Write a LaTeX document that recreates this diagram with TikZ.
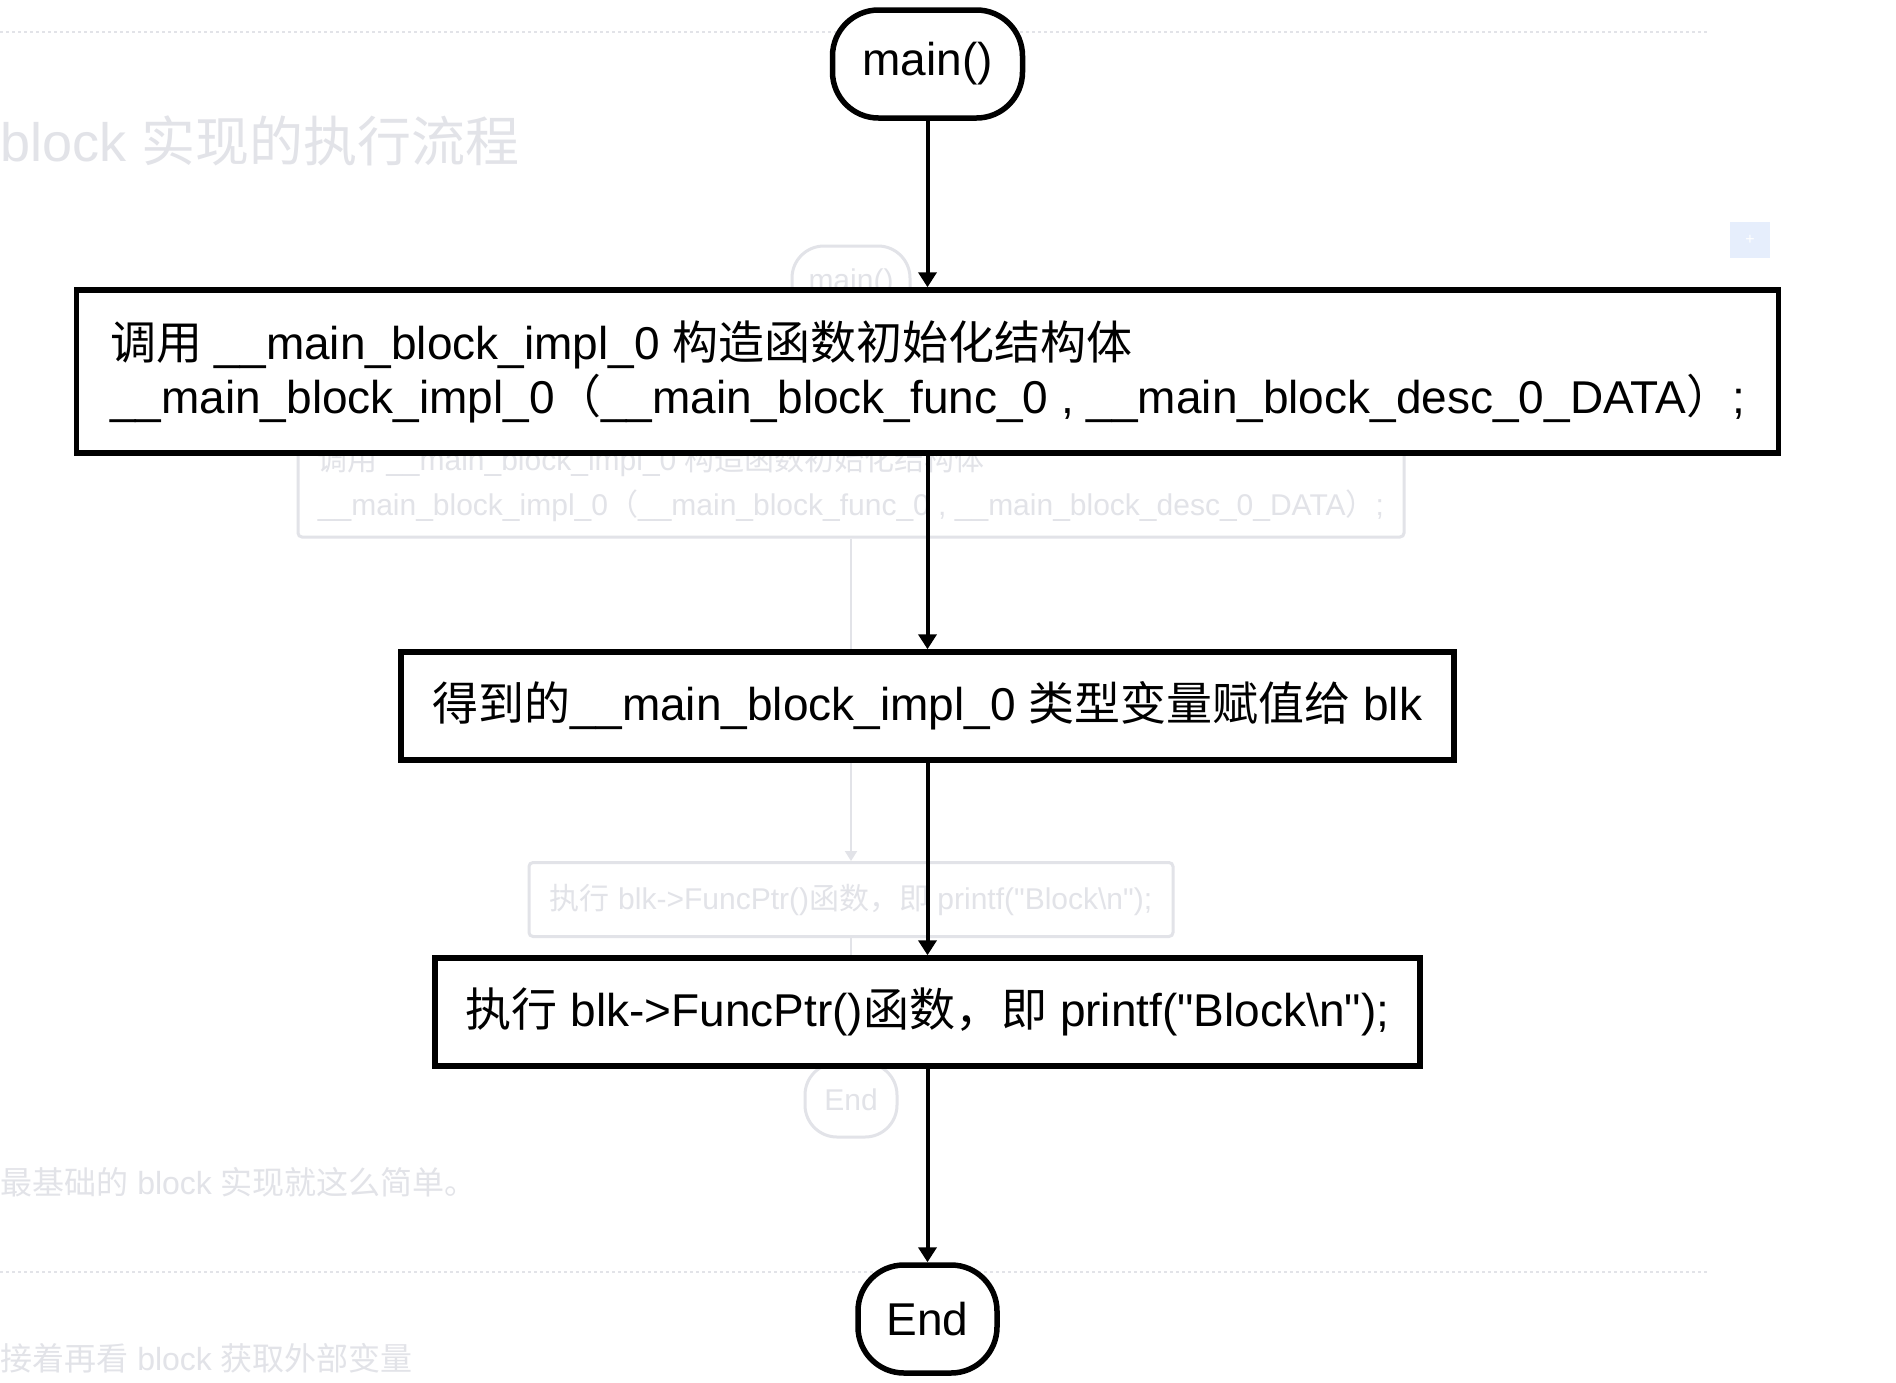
\documentclass[tikz,border=0pt]{standalone}
\usepackage{fontspec}
\setmainfont{Liberation Sans}
\newfontfamily\cjk{Noto Sans CJK SC}
\newcommand\zh[1]{{\cjk #1}}
\usetikzlibrary{arrows.meta}
\definecolor{ghost}{RGB}{226,227,232}
\definecolor{ghostblue}{RGB}{230,238,252}
\begin{document}
\begin{tikzpicture}[x=0.5pt,y=-0.5pt,
  mainfont/.style={font=\fontsize{23}{27}\selectfont},
  box/.style={draw=black, line width=2.75pt, fill=white, mainfont, inner sep=0pt, align=left},
  term/.style={box, rounded corners=23pt},
  flow/.style={draw=black, line width=2pt, -{Triangle[length=7.5pt,width=9pt]}},
  gbox/.style={draw=ghost, line width=1.5pt, text=ghost, font=\fontsize{15}{22.5}\selectfont, inner sep=0pt, align=left, rounded corners=2pt},
  gterm/.style={gbox, rounded corners=16pt},
  gflow/.style={draw=ghost, line width=1pt, -{Triangle[length=5pt,width=6pt]}},
  gtext/.style={text=ghost, inner sep=0pt, anchor=west},
  sepline/.style={draw=ghost, line width=0.75pt, dash pattern=on 1.5pt off 1.5pt},
]
\useasboundingbox (0,0) rectangle (1896,1382);
\fill[white] (0,0) rectangle (1896,1382);

% faint background page
\coordinate (s1a) at (0,32);
\coordinate (s1b) at (1707,32);
\coordinate (s2a) at (0,1272);
\coordinate (s2b) at (1707,1272);
\draw[sepline] (s1a) -- (s1b);
\draw[sepline] (s2a) -- (s2b);
\node[gtext, font=\fontsize{27}{27}\selectfont] (gtitle) at (0,141) {block \zh{实现的执行流程}};
\node[fill=ghostblue, minimum width=20pt, minimum height=18pt, inner sep=0pt, text=white, font=\fontsize{8}{8}\selectfont] (gicon) at (1750,240) {+};
\node[gtext, font=\fontsize{16}{16}\selectfont] (gt2) at (0,1182) {\zh{最基础的} block \zh{实现就这么简单。}};
\node[gtext, font=\fontsize{16}{16}\selectfont] (gt3) at (0,1358) {\zh{接着再看} block \zh{获取外部变量}};

\node[gterm, minimum width=59pt, minimum height=37pt] (gmain) at (851,283) {main()};
\node[gbox, minimum width=553pt, minimum height=54pt] (gb1) at (851,483) {\zh{调用} \_\_main\_block\_impl\_0 \zh{构造函数初始化结构体}\\\_\_main\_block\_impl\_0\zh{（}\_\_main\_block\_func\_0 , \_\_main\_block\_desc\_0\_DATA\zh{）};};
\node[gbox, minimum width=322pt, minimum height=37pt] (gb3) at (851,899.5) {\zh{执行} blk->FuncPtr()\zh{函数，即} printf(\textquotedbl Block\textbackslash n\textquotedbl);};
\node[gterm, minimum width=46pt, minimum height=37pt] (gend) at (851,1100) {End};
\draw[gflow] (gmain) -- (gb1);
\draw[gflow] (gb1) -- (gb3);
\draw[gflow] (gb3) -- (gend);

% main flowchart
\node[term, minimum width=95pt, minimum height=54pt] (start) at (927.5,64) {main()};
\node[box, minimum width=851pt, minimum height=81.5pt] (b1) at (927.5,371.5) {\zh{调用} \_\_main\_block\_impl\_0 \zh{构造函数初始化结构体}\\\_\_main\_block\_impl\_0\zh{（}\_\_main\_block\_func\_0 , \_\_main\_block\_desc\_0\_DATA\zh{）};};
\node[box, minimum width=526.5pt, minimum height=54pt] (b2) at (927.5,706) {\zh{得到的}\_\_main\_block\_impl\_0 \zh{类型变量赋值给} blk};
\node[box, minimum width=492.5pt, minimum height=54pt] (b3) at (927.5,1012) {\zh{执行} blk->FuncPtr()\zh{函数，即} printf(\textquotedbl Block\textbackslash n\textquotedbl);};
\node[term, minimum width=69.5pt, minimum height=54pt] (end) at (927.5,1319) {End};
\draw[flow] (start) -- (b1);
\draw[flow] (b1) -- (b2);
\draw[flow] (b2) -- (b3);
\draw[flow] (b3) -- (end);
\end{tikzpicture}
\end{document}
